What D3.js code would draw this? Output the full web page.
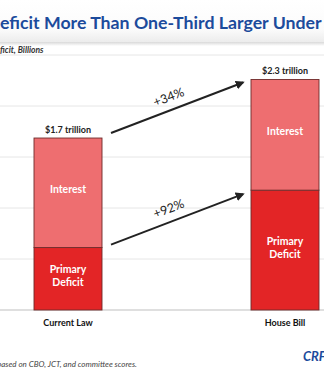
<!DOCTYPE html>
<html>
<head>
<meta charset="utf-8">
<script src="https://cdn.jsdelivr.net/npm/d3@7"></script>
<style>
  html, body { margin: 0; padding: 0; background: #fff; overflow: hidden; }
  svg { display: block; font-family: Lato, "Open Sans", sans-serif; }
</style>
</head>
<body>
<svg id="chart" width="324" height="375"></svg>
<script>
// Deficit scenarios, billions of dollars
const scenarios = ["Current Law", "House Bill"];
const primaryDeficit = [612, 1175];
const interest = [1074, 1085];
const totalLabels = ["$1.7 trillion", "$2.3 trillion"];
const changeLabels = ["+34%", "+92%"];   // total, primary deficit
const yTicks = [0, 500, 1000, 1500, 2000, 2500];

const svg = d3.select("#chart");
const W = 324;

const x = d3.scaleBand().domain(scenarios).range([-74.5, 427.5])
  .paddingInner(0.6866).paddingOuter(0.5);
const y = d3.scaleLinear().domain([0, 2500]).range([310, 55]);

// header band with soft shadow
const defs = svg.append("defs");
const hg = defs.append("linearGradient").attr("id", "hdr").attr("x1", 0).attr("x2", 0).attr("y1", 0).attr("y2", 1);
hg.append("stop").attr("offset", "0%").attr("stop-color", "#ffffff");
hg.append("stop").attr("offset", "70%").attr("stop-color", "#fbfbfb");
hg.append("stop").attr("offset", "100%").attr("stop-color", "#ececec");
const sg = defs.append("linearGradient").attr("id", "shd").attr("x1", 0).attr("x2", 0).attr("y1", 0).attr("y2", 1);
sg.append("stop").attr("offset", "0%").attr("stop-color", "#d9d9d9");
sg.append("stop").attr("offset", "100%").attr("stop-color", "#ffffff");
svg.append("rect").attr("x", 0).attr("y", 0).attr("width", W).attr("height", 42).attr("fill", "url(#hdr)");
svg.append("rect").attr("x", 0).attr("y", 42).attr("width", W).attr("height", 4).attr("fill", "url(#shd)");

// title, fitted so the visible run spans the width
const title = svg.append("text")
  .attr("y", 29)
  .attr("fill", "#1c4b9c")
  .attr("font-weight", 700)
  .attr("font-size", 20);
const tD = title.append("tspan").text("D");
title.append("tspan").text("eficit More Than One-Third Larger Under House Bill");
(function fitTitle() {
  const probe = svg.append("text").attr("font-weight", 700).attr("font-size", 20)
    .text("eficit More Than One-Third Larger Under ");
  const w = probe.node().getComputedTextLength();
  probe.remove();
  const fs = 20 * 322 / w;
  title.attr("font-size", fs);
  const dW = tD.node().getComputedTextLength();
  title.attr("x", -dW);
})();

// subtitle
const sub = svg.append("text").attr("y", 53)
  .attr("font-size", 8.5).attr("font-style", "italic").attr("font-weight", 700).attr("fill", "#333");
const sDe = sub.append("tspan").text("De");
sub.append("tspan").text("ficit, Billions");
sub.attr("x", -sDe.node().getComputedTextLength());

// gridlines
svg.append("g").selectAll("line").data(yTicks).join("line")
  .attr("x1", 0).attr("x2", W)
  .attr("y1", d => y(d)).attr("y2", d => y(d))
  .attr("stroke", d => d === 0 ? "#bfbfbf" : "#e6e6e6")
  .attr("stroke-width", d => d === 0 ? 1.2 : 1);

// stacked bars
const rows = scenarios.map((s, i) => ({ s, p: primaryDeficit[i], q: interest[i], i }));
const g = svg.append("g");
g.selectAll("rect.primary").data(rows).join("rect").attr("class", "primary")
  .attr("x", d => x(d.s)).attr("width", x.bandwidth())
  .attr("y", d => y(d.p)).attr("height", d => y(0) - y(d.p))
  .attr("fill", "#e32526").attr("stroke", "#6e2a2a").attr("stroke-width", 0.9);
g.selectAll("rect.interest").data(rows).join("rect").attr("class", "interest")
  .attr("x", d => x(d.s)).attr("width", x.bandwidth())
  .attr("y", d => y(d.p + d.q)).attr("height", d => y(d.p) - y(d.p + d.q))
  .attr("fill", "#ee6e70").attr("stroke", "#6e2a2a").attr("stroke-width", 0.9);

// segment labels
const cx = d => x(d.s) + x.bandwidth() / 2;
g.selectAll("text.int").data(rows).join("text")
  .attr("x", cx).attr("y", d => (y(d.p) + y(d.p + d.q)) / 2 - 3).attr("dy", "0.35em")
  .attr("text-anchor", "middle").attr("fill", "#fff").attr("font-weight", 700).attr("font-size", 10.5)
  .text("Interest");
const pl = g.selectAll("text.pri").data(rows).join("text")
  .attr("text-anchor", "middle").attr("fill", "#fff").attr("font-weight", 700).attr("font-size", 10.5);
pl.append("tspan").attr("x", cx).attr("y", d => (y(0) + y(d.p)) / 2 - 9).attr("dy", "0.35em").text("Primary");
pl.append("tspan").attr("x", cx).attr("y", d => (y(0) + y(d.p)) / 2 + 4).attr("dy", "0.35em").text("Deficit");

// totals
g.selectAll("text.tot").data(rows).join("text")
  .attr("x", cx).attr("y", d => y(d.p + d.q) - 5)
  .attr("text-anchor", "middle").attr("fill", "#222").attr("font-weight", 700).attr("font-size", 9)
  .text(d => totalLabels[d.i]);

// category labels
g.selectAll("text.cat").data(rows).join("text")
  .attr("x", cx).attr("y", 326)
  .attr("text-anchor", "middle").attr("fill", "#111").attr("font-weight", 700).attr("font-size", 9)
  .text(d => d.s);

// growth arrows
defs.append("marker").attr("id", "ah").attr("viewBox", "0 0 10 10")
  .attr("refX", 8).attr("refY", 5).attr("markerWidth", 4.5).attr("markerHeight", 4.5)
  .attr("orient", "auto")
  .append("path").attr("d", "M0,0 L10,5 L0,10 Z").attr("fill", "#222");

const x0 = x(scenarios[0]) + x.bandwidth() + 9;
const x1 = x(scenarios[1]) - 8;
const arrows = [
  { a: y(primaryDeficit[0] + interest[0]) - 5, b: y(primaryDeficit[1] + interest[1]) + 3, t: changeLabels[0] },
  { a: y(primaryDeficit[0]) - 3, b: y(primaryDeficit[1]) + 4, t: changeLabels[1] }
];
arrows.forEach(ar => {
  svg.append("line").attr("x1", x0).attr("y1", ar.a).attr("x2", x1).attr("y2", ar.b)
    .attr("stroke", "#222").attr("stroke-width", 2).attr("marker-end", "url(#ah)");
  const ang = Math.atan2(ar.b - ar.a, x1 - x0) * 180 / Math.PI;
  const mx = (x0 + x1) / 2 - 5, my = (ar.a + ar.b) / 2 - 2;
  svg.append("text")
    .attr("transform", `translate(${mx},${my}) rotate(${ang})`)
    .attr("y", -5)
    .attr("text-anchor", "middle").attr("fill", "#222").attr("font-size", 12.5)
    .text(ar.t);
});

// source note and logo
svg.append("text").attr("x", 137).attr("y", 367).attr("text-anchor", "end")
  .attr("font-size", 8).attr("font-style", "italic").attr("fill", "#444")
  .text("Source: CRFB calculations based on CBO, JCT, and committee scores.");
svg.append("text").attr("x", 303).attr("y", 361)
  .attr("font-size", 13).attr("font-style", "italic").attr("font-weight", 700).attr("fill", "#1c4b9c")
  .text("CRFB");
</script>
</body>
</html>
